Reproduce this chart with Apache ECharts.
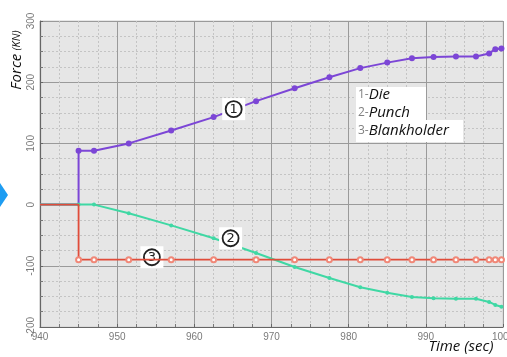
<!DOCTYPE html>
<html><head><meta charset="utf-8">
<script src="https://cdn.jsdelivr.net/npm/echarts@6/dist/echarts.min.js"></script>
<style>html,body{margin:0;padding:0;background:#fff}#c{width:507px;height:357px}</style>
</head><body><div id="c"></div>
<script>
// time points with markers (sec)
const time = [945, 947, 951.5, 957, 962.5, 968, 973, 977.5, 981.5, 985, 988.2, 991, 993.9, 996.5, 998.2, 999, 999.8];
// forces (KN)
const die = [88, 88, 100, 121, 143, 169, 190, 208, 223, 232, 239, 241, 242, 242, 247, 254, 255];
const punch = [0, 0, -14, -34, -55, -79, -102, -120, -135, -144, -151, -153, -154, -154, -159, -164, -167];
const blank = [-90, -90, -90, -90, -90, -90, -90, -90, -90, -90, -90, -90, -90, -90, -90, -90, -90];
// initial (unmarked) segment before contact
const preTime = [940, 945];
const preForce = [0, 0];
const xTicks = [940, 950, 960, 970, 980, 990, 1000];
const yTicks = [-200, -100, 0, 100, 200, 300];
const names = ['Die', 'Punch', 'Blankholder'];
const tags = [{t: 965.1, f: 156, n: '1'}, {t: 964.7, f: -55, n: '2'}, {t: 954.5, f: -86, n: '3'}];

function build(vals) {
  const out = preTime.map((t, i) => ({value: [t, preForce[i]], symbol: 'none'}));
  time.forEach((t, i) => out.push({value: [t, vals[i]]}));
  return out;
}
function tagMark(i) {
  const g = tags[i];
  return {
    silent: true,
    data: [
      {coord: [g.t, g.f], symbol: 'rect', symbolSize: [23, 22], itemStyle: {color: '#fff'}, label: {show: false}},
      {coord: [g.t, g.f], symbol: 'circle', symbolSize: 16,
       itemStyle: {color: '#fff', borderColor: '#222', borderWidth: 1.8},
       label: {show: true, position: 'inside', formatter: g.n, color: '#222', fontSize: 13, fontFamily: 'DejaVu Sans'}}
    ]
  };
}
const chart = echarts.init(document.getElementById('c'), null, {renderer: 'canvas'});
const axisLabelStyle = {color: '#7a7a7a', fontSize: 10, fontFamily: 'Liberation Sans'};
chart.setOption({
  animation: false,
  grid: {left: 40, right: 4, top: 21, bottom: 30, show: true, backgroundColor: '#e6e6e6', borderColor: '#d0d0d0', borderWidth: 1,
         containLabel: false, outerBoundsMode: 'none'},
  xAxis: {
    type: 'value', min: xTicks[0], max: xTicks[xTicks.length - 1], interval: 10,
    axisLine: {show: true, onZero: false, lineStyle: {color: '#666', width: 1.2}},
    axisTick: {show: true, inside: true, length: 3, lineStyle: {color: '#666'}},
    minorTick: {show: true, splitNumber: 4, length: 3, lineStyle: {color: '#777'}},
    axisLabel: Object.assign({margin: 5, formatter: v => String(v), hideOverlap: false}, axisLabelStyle),
    splitLine: {show: true, lineStyle: {color: '#9a9a9a', width: 1}},
    minorSplitLine: {show: true, lineStyle: {color: '#c4c4c4', type: [2, 2], width: 1}}
  },
  yAxis: {
    type: 'value', min: yTicks[0], max: yTicks[yTicks.length - 1], interval: 100,
    axisLine: {show: true, onZero: false, lineStyle: {color: '#666', width: 1.2}},
    axisTick: {show: true, inside: true, length: 3, lineStyle: {color: '#666'}},
    minorTick: {show: true, splitNumber: 4, length: 3, lineStyle: {color: '#777'}},
    axisLabel: Object.assign({rotate: 90, margin: 4}, axisLabelStyle),
    splitLine: {show: true, lineStyle: {color: '#9a9a9a', width: 1}},
    minorSplitLine: {show: true, lineStyle: {color: '#c4c4c4', type: [2, 2], width: 1}}
  },
  series: [
    {name: names[0], type: 'line', data: build(die), color: '#7c46d6', lineStyle: {width: 2, color: '#7c46d6'},
     symbol: 'circle', symbolSize: 6, itemStyle: {color: '#7c46d6'}, markPoint: tagMark(0), z: 3},
    {name: names[1], type: 'line', data: build(punch), color: '#3fd8a4', lineStyle: {width: 2, color: '#3fd8a4'},
     symbol: 'circle', symbolSize: 4, itemStyle: {color: '#3fd8a4'}, markPoint: tagMark(1), z: 4},
    {name: names[2], type: 'line', data: build(blank), color: '#e04c3a', lineStyle: {width: 1.8, color: '#e04c3a'},
     symbol: 'emptyCircle', symbolSize: 5, itemStyle: {color: '#f08878', borderColor: '#e04c3a', borderWidth: 1}, markPoint: tagMark(2), z: 5}
  ],
  graphic: [
    {type: 'polygon', shape: {points: [[0, 183], [8, 195], [0, 207]]}, style: {fill: '#1e9df2'}},
    {type: 'text', x: 17, y: 60, rotation: Math.PI / 2, style: {
      text: '{a|Force} {b|(KN)}', align: 'center', verticalAlign: 'middle',
      rich: {a: {fontSize: 15, fontStyle: 'italic', fontFamily: 'Open Sans', fill: '#111'},
             b: {fontSize: 11, fontStyle: 'italic', fontFamily: 'Open Sans', fill: '#111'}}}},
    {type: 'text', x: 461, y: 347, style: {
      text: 'Time (sec)', align: 'center', verticalAlign: 'middle',
      font: 'italic 15px "Open Sans"', fill: '#111'}},
    {type: 'rect', shape: {x: 356, y: 87, width: 70, height: 34}, style: {fill: '#fff'}, z: 10},
    {type: 'rect', shape: {x: 356, y: 120, width: 107, height: 22}, style: {fill: '#fff'}, z: 10},
    {type: 'text', x: 358, y: 95, z: 11, style: {text: '{d|1-}{w|' + names[0] + '}', verticalAlign: 'middle',
      rich: {d: {fontSize: 12, fill: '#808080', fontFamily: 'Open Sans'}, w: {fontSize: 15, fontStyle: 'italic', fill: '#111', fontFamily: 'Open Sans'}}}},
    {type: 'text', x: 358, y: 113, z: 11, style: {text: '{d|2-}{w|' + names[1] + '}', verticalAlign: 'middle',
      rich: {d: {fontSize: 12, fill: '#808080', fontFamily: 'Open Sans'}, w: {fontSize: 15, fontStyle: 'italic', fill: '#111', fontFamily: 'Open Sans'}}}},
    {type: 'text', x: 358, y: 131, z: 11, style: {text: '{d|3-}{w|' + names[2] + '}', verticalAlign: 'middle',
      rich: {d: {fontSize: 12, fill: '#808080', fontFamily: 'Open Sans'}, w: {fontSize: 15, fontStyle: 'italic', fill: '#111', fontFamily: 'Open Sans'}}}}
  ]
});
</script></body></html>
